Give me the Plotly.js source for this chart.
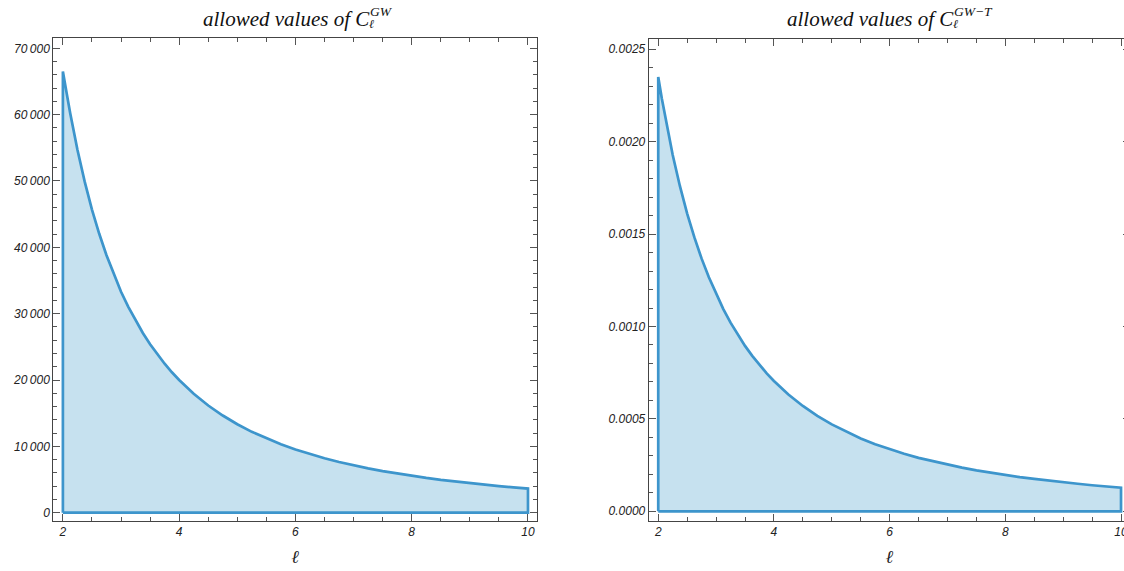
<!DOCTYPE html>
<html>
<head>
<meta charset="utf-8">
<script src="https://cdn.plot.ly/plotly-3.0.1.min.js"></script>
<style>
html,body{margin:0;padding:0;overflow:hidden;background:#fff;}
#chart{width:1135px;height:571px;}
</style>
</head>
<body>
<div id="chart"></div>
<script>
// multipole values sampled along the upper boundary
const ell = [2,2.0625,2.125,2.25,2.375,2.5,2.625,2.75,2.875,3,3.125,3.25,3.375,3.5,3.625,3.75,3.875,4,4.25,4.5,4.75,5,5.25,5.5,5.75,6,6.25,6.5,6.75,7,7.25,7.5,7.75,8,8.25,8.5,8.75,9,9.25,9.5,9.75,10];
// upper bound of allowed C_l^GW
const cGW = [66500,63330,60240,54700,49900,45700,42040,38800,35900,33300,31030,28960,27090,25400,23860,22460,21170,20000,17930,16160,14650,13330,12190,11190,10310,9520,8830,8210,7650,7140,6690,6270,5900,5560,5240,4950,4690,4440,4220,4010,3820,3640];
// upper bound of allowed C_l^{GW-T}
const cGWT = [0.00235,0.002232,0.002123,0.001928,0.001759,0.001611,0.001482,0.001367,0.001266,0.001175,0.001094,0.001021,0.000955,0.000895,0.000841,0.000792,0.000746,0.000705,0.000632,0.000570,0.000516,0.000470,0.000430,0.000394,0.000363,0.000336,0.000311,0.000289,0.000270,0.000252,0.000236,0.000221,0.000208,0.000196,0.000185,0.000175,0.000165,0.000157,0.000149,0.000141,0.000135,0.000128];

const xTicks = [2,4,6,8,10];
const yTicksL = [0,10000,20000,30000,40000,50000,60000,70000];
const yTextL = ['0','10\u2009000','20\u2009000','30\u2009000','40\u2009000','50\u2009000','60\u2009000','70\u2009000'];
const yTicksR = [0,0.0005,0.001,0.0015,0.002,0.0025];
const yTextR = ['0.0000','0.0005','0.0010','0.0015','0.0020','0.0025'];

const W = 1135, H = 571;
const px = v => v / W;
const py = v => 1 - v / H;

function region(xs, ys) {
  const x = [xs[0]].concat(xs, [xs[xs.length-1], xs[0]]);
  const y = [0].concat(ys, [0, 0]);
  return {x, y};
}
const rL = region(ell, cGW);
const rR = region(ell, cGWT);

const lineCol = '#3d95cc';
const fillCol = 'rgba(198,225,239,1)';

const traces = [
  {x: rL.x, y: rL.y, type:'scatter', mode:'lines', fill:'toself', fillcolor: fillCol,
   line:{color: lineCol, width:2.7}, xaxis:'x', yaxis:'y', hoverinfo:'skip'},
  {x: rR.x, y: rR.y, type:'scatter', mode:'lines', fill:'toself', fillcolor: fillCol,
   line:{color: lineCol, width:2.7}, xaxis:'x2', yaxis:'y2', hoverinfo:'skip'}
];

const tickFont = {family:'Liberation Sans, Arial, sans-serif', size:12, color:'#222', style:'italic'};
const frameCol = '#444';

function xAxis(domain, anchor) {
  return {
    domain, anchor, range:[1.835, 10.15], showgrid:false, zeroline:false,
    showline:true, linecolor:frameCol, linewidth:1, mirror:'allticks',
    ticks:'inside', ticklen:7, tickwidth:1, tickcolor:'#555',
    tickvals: xTicks, tickfont: tickFont,
    minor:{dtick:0.5, tick0:2, ticks:'inside', ticklen:4, tickcolor:'#555', showgrid:false},
    title:{text:'<i>ℓ</i>', font:{family:'Liberation Serif, serif', size:18, color:'#222'}, standoff:12}
  };
}
function yAxis(domain, anchor, range, vals, text, minorD) {
  return {
    domain, anchor, range, showgrid:false, zeroline:false,
    showline:true, linecolor:frameCol, linewidth:1, mirror:'allticks',
    ticks:'inside', ticklen:7, tickwidth:1, tickcolor:'#555',
    tickvals: vals, ticktext: text, tickfont: tickFont,
    minor:{dtick:minorD, tick0:0, ticks:'inside', ticklen:4, tickcolor:'#555', showgrid:false}
  };
}

const titleFont = {family:'Liberation Serif, Times New Roman, serif', size:21, color:'#111'};
const supFont = {family:'Liberation Serif, Times New Roman, serif', size:13.5, color:'#111'};

function titleAnn(xEnd, sup) {
  return [
    {text:'<i>allowed values of C</i>', x:px(xEnd), y:py(19), xref:'paper', yref:'paper',
     xanchor:'right', yanchor:'middle', showarrow:false, font:titleFont},
    {text:'<i>'+sup+'</i>', x:px(xEnd-4), y:py(12), xref:'paper', yref:'paper',
     xanchor:'left', yanchor:'middle', showarrow:false, font:supFont},
    {text:'<i>ℓ</i>', x:px(xEnd-5), y:py(24), xref:'paper', yref:'paper',
     xanchor:'left', yanchor:'middle', showarrow:false, font:{family:'Liberation Serif, serif', size:12, color:'#111'}}
  ];
}

const layout = {
  width: W, height: H,
  margin:{l:0, r:0, t:0, b:0},
  paper_bgcolor:'#fff', plot_bgcolor:'#fff',
  showlegend:false,
  xaxis: xAxis([px(53.3), px(536.7)], 'y'),
  yaxis: yAxis([py(520.5), py(37.5)], 'x', [-1176, 71630], yTicksL, yTextL, 2000),
  xaxis2: xAxis([px(648.7), px(1129.7)], 'y2'),
  yaxis2: yAxis([py(520.7), py(39.3)], 'x2', [-0.0000509, 0.002554], yTicksR, yTextR, 0.0001),
  annotations: titleAnn(372, 'GW').concat(titleAnn(956, 'GW\u2212T'))
};

Plotly.newPlot('chart', traces, layout, {displayModeBar:false, staticPlot:true});
</script>
</body>
</html>
